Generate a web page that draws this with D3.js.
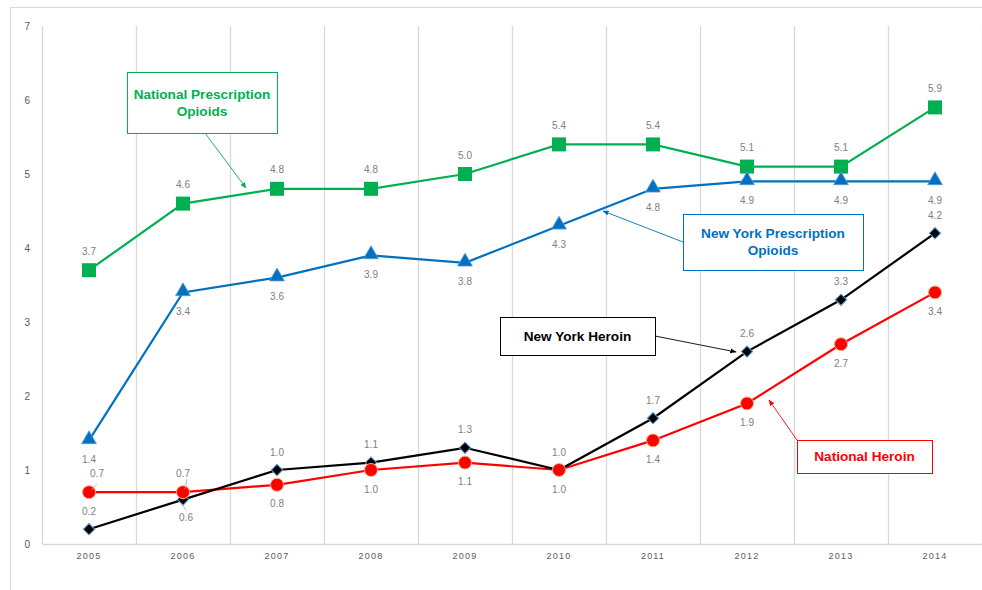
<!DOCTYPE html>
<html>
<head>
<meta charset="utf-8">
<script src="https://cdn.jsdelivr.net/npm/d3@7"></script>
<style>
  body { margin: 0; background: #fff; }
  svg { display: block; font-family: "Liberation Sans", Arial, sans-serif; }
</style>
</head>
<body>
<svg id="chart" width="982" height="590"></svg>
<script>
const years = ['2005', '2006', '2007', '2008', '2009', '2010', '2011', '2012', '2013', '2014'];
const yTicks = [0, 1, 2, 3, 4, 5, 6, 7];

const natRx = [3.7, 4.6, 4.8, 4.8, 5.0, 5.4, 5.4, 5.1, 5.1, 5.9];
const nyRx = [1.4, 3.4, 3.6, 3.9, 3.8, 4.3, 4.8, 4.9, 4.9, 4.9];
const nyHeroin = [0.2, 0.6, 1.0, 1.1, 1.3, 1.0, 1.7, 2.6, 3.3, 4.2];
const natHeroin = [0.7, 0.7, 0.8, 1.0, 1.1, 1.0, 1.4, 1.9, 2.7, 3.4];

// label side per point: -1 above, 1 below
const natRxSide = [-1, -1, -1, -1, -1, -1, -1, -1, -1, -1];
const nyRxSide = [1, 1, 1, 1, 1, 1, 1, 1, 1, 1];
const nyHeroinSide = [-1, 1, -1, -1, -1, -1, -1, -1, -1, -1];
const natHeroinSide = [-1, -1, 1, 1, 1, 1, 1, 1, 1, 1];

const svg = d3.select('#chart');
const width = 982, height = 590;

// outer frame
svg.append('rect')
    .attr('x', 10.5).attr('y', 7.5)
    .attr('width', width).attr('height', height)
    .style('fill', 'none').style('stroke', '#d9d9d9');

const x = d3.scaleBand().domain(years).range([42, 982]);
const y = d3.scaleLinear().domain([0, 7]).range([544, 26]);
const cx = d => x(d) + x.bandwidth() / 2;

// vertical gridlines at category boundaries
const gridX = years.map(d => x(d)).concat([x.range()[1]]);
svg.append('g').selectAll('line')
    .data(gridX)
    .enter().append('line')
    .attr('x1', d => Math.round(d) + 0.5).attr('x2', d => Math.round(d) + 0.5)
    .attr('y1', y(7)).attr('y2', y(0))
    .style('stroke', '#d9d9d9').style('stroke-width', 1.3);

// x axis
const xAxis = svg.append('g')
    .attr('transform', `translate(0,${y(0)})`)
    .call(d3.axisBottom(x).tickSize(0).tickPadding(9));
xAxis.select('.domain').style('stroke', '#d9d9d9').style('stroke-width', 1.3);
xAxis.selectAll('text')
    .style('font-size', '9px').style('fill', '#595959').style('letter-spacing', '1.2px');

// y axis
const yAxis = svg.append('g')
    .attr('transform', 'translate(30,0)')
    .call(d3.axisLeft(y).tickValues(yTicks).tickFormat(d3.format('d')).tickSize(0).tickPadding(0));
yAxis.select('.domain').remove();
yAxis.selectAll('text')
    .style('font-size', '10px').style('fill', '#595959');

const series = [
    { name: 'natHeroin', values: natHeroin, side: natHeroinSide, color: '#ff0000' },
    { name: 'nyHeroin', values: nyHeroin, side: nyHeroinSide, color: '#000000' },
    { name: 'nyRx', values: nyRx, side: nyRxSide, color: '#0070c0' },
    { name: 'natRx', values: natRx, side: natRxSide, color: '#00b050' },
];

const line = d3.line()
    .x((d, i) => cx(years[i]))
    .y(d => y(d));

series.forEach(s => {
    svg.append('path')
        .datum(s.values)
        .attr('d', line)
        .style('fill', 'none')
        .style('stroke', s.color)
        .style('stroke-width', 2.2);
});

// markers
const g = svg.append('g');
g.selectAll('.sq').data(natRx).enter().append('rect')
    .attr('x', (d, i) => cx(years[i]) - 7)
    .attr('y', d => y(d) - 7)
    .attr('width', 14).attr('height', 14)
    .style('fill', '#00b050');

const tri = d3.symbol().type(d3.symbolTriangle).size(95);
g.selectAll('.tri').data(nyRx).enter().append('path')
    .attr('d', tri)
    .attr('transform', (d, i) => `translate(${cx(years[i])},${y(d) - 1})`)
    .style('fill', '#0070c0')
    .style('stroke', '#5b9bd5').style('stroke-width', 0.8);

const dia = d3.symbol().type(d3.symbolSquare).size(64);
g.selectAll('.dia').data(nyHeroin).enter().append('path')
    .attr('d', dia)
    .attr('transform', (d, i) => `translate(${cx(years[i])},${y(d)}) rotate(45)`)
    .style('fill', '#000')
    .style('stroke', '#5b9bd5').style('stroke-width', 1);

g.selectAll('.circ').data(natHeroin).enter().append('circle')
    .attr('cx', (d, i) => cx(years[i]))
    .attr('cy', d => y(d))
    .attr('r', 6.5)
    .style('fill', '#ff0000')
    .style('stroke', '#f4b183').style('stroke-width', 1);

// data labels
const labelOffsets = {
    natRx: { dx: [0, 0, 0, 0, 0, 0, 0, 0, 0, 0], dist: 19 },
    nyRx: { dx: [0, 0, 0, 0, 0, 0, 0, 0, 0, 0], dist: 19 },
    nyHeroin: { dx: [0, 3, 0, 0, 0, 0, 0, 0, 0, 0], dist: 18 },
    natHeroin: { dx: [8, 0, 0, 0, 0, 0, 0, 0, 0, 0], dist: 19 },
};
series.forEach(s => {
    const off = labelOffsets[s.name];
    svg.append('g').selectAll('text')
        .data(s.values)
        .enter().append('text')
        .attr('x', (d, i) => cx(years[i]) + off.dx[i])
        .attr('y', (d, i) => y(d) + s.side[i] * off.dist)
        .attr('text-anchor', 'middle')
        .attr('dominant-baseline', 'central')
        .style('font-size', '10px')
        .style('fill', '#808080')
        .text(d => d3.format('.1f')(d));
});

// small leader lines for crowded labels
const leaders = [
    [cx('2005') + 2, y(0.7) - 2, cx('2005') + 8, y(0.7) - 8],
    [cx('2006') + 2, y(0.7) - 3, cx('2006') + 4, y(0.7) - 13],
    [cx('2006') - 1, y(0.6) + 4, cx('2006') + 3, y(0.6) + 11],
];
svg.append('g').selectAll('line').data(leaders).enter().append('line')
    .attr('x1', d => d[0]).attr('y1', d => d[1])
    .attr('x2', d => d[2]).attr('y2', d => d[3])
    .style('stroke', '#a6a6a6').style('stroke-width', 0.8);

// callouts
const defs = svg.append('defs');
function arrowHead(id, color) {
    defs.append('marker')
        .attr('id', id)
        .attr('viewBox', '0 0 10 10')
        .attr('refX', 9).attr('refY', 5)
        .attr('markerWidth', 7).attr('markerHeight', 7)
        .attr('orient', 'auto')
        .append('path').attr('d', 'M0,1 L10,5 L0,9 Z')
        .style('fill', color);
}

const callouts = [
    { lines: ['National Prescription', 'Opioids'], color: '#00b050', box: [127, 72, 150, 61],
      from: [205, 133], to: [246, 188] },
    { lines: ['New York Prescription', 'Opioids'], color: '#0070c0', box: [683, 214, 180, 56],
      from: [683, 242], to: [603, 211] },
    { lines: ['New York Heroin'], color: '#000000', box: [500, 317, 155, 38],
      from: [655, 336], to: [736, 352] },
    { lines: ['National Heroin'], color: '#ff0000', box: [797, 440, 135, 33],
      from: [797, 440], to: [769, 400] },
];

callouts.forEach((c, k) => {
    const id = 'arrow' + k;
    arrowHead(id, c.color);
    svg.append('line')
        .attr('x1', c.from[0]).attr('y1', c.from[1])
        .attr('x2', c.to[0]).attr('y2', c.to[1])
        .attr('marker-end', `url(#${id})`)
        .style('stroke', c.color).style('stroke-width', 0.9);
    const [bx, by, bw, bh] = c.box;
    svg.append('rect')
        .attr('x', bx + 0.5).attr('y', by + 0.5)
        .attr('width', bw).attr('height', bh)
        .style('fill', '#fff')
        .style('stroke', c.color).style('stroke-width', 1);
    const lh = 17;
    const top = by + bh / 2 - (c.lines.length - 1) * lh / 2;
    c.lines.forEach((t, j) => {
        svg.append('text')
            .attr('x', bx + bw / 2)
            .attr('y', top + j * lh)
            .attr('text-anchor', 'middle')
            .attr('dominant-baseline', 'central')
            .style('font-size', '13.6px')
            .style('font-weight', 'bold')
            .style('fill', c.color)
            .text(t);
    });
});
</script>
</body>
</html>
